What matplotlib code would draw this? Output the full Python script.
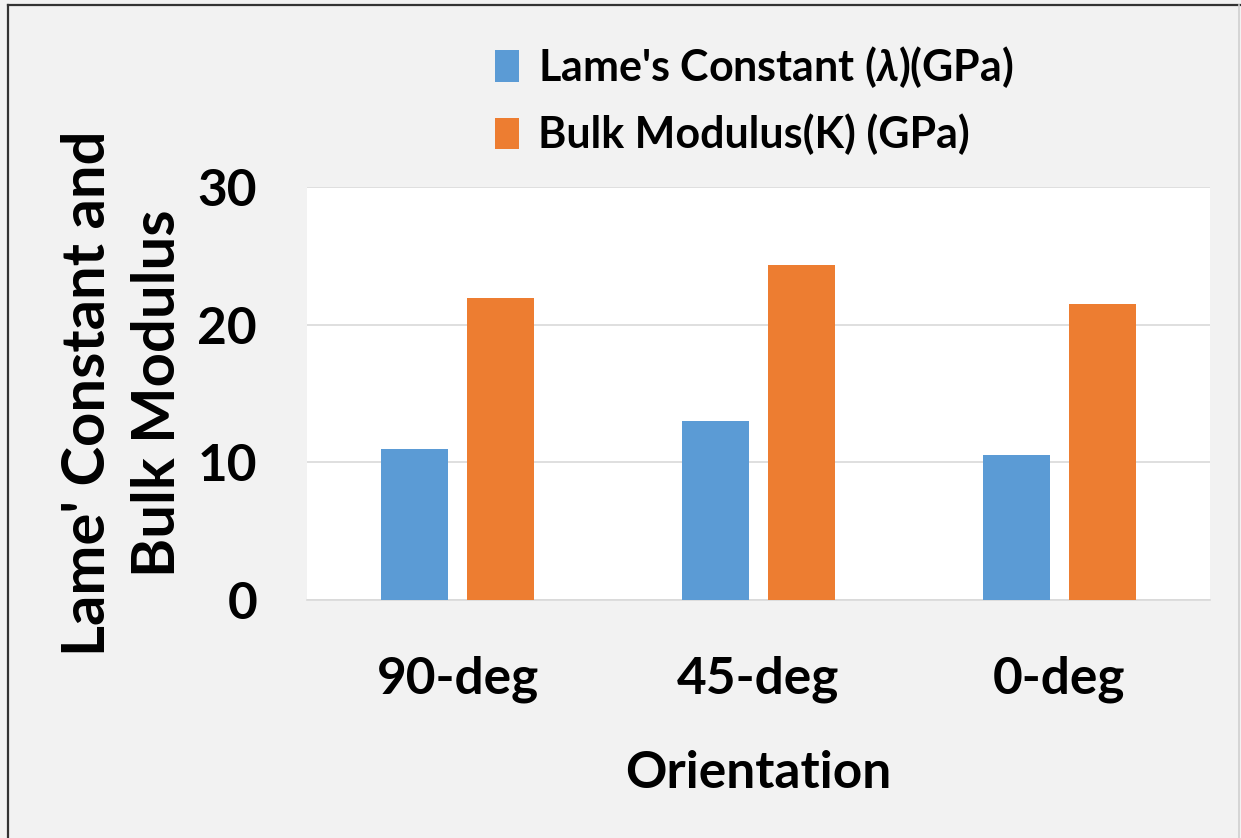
import matplotlib.pyplot as plt
import numpy as np
from matplotlib.lines import Line2D

# orientation categories and moduli (GPa)
orientations = ["90-deg", "45-deg", "0-deg"]
lame_lambda = [11.0, 13.0, 10.5]
bulk_modulus = [21.9, 24.3, 21.5]

plt.rcParams['font.family'] = ['Lato', 'DejaVu Sans']
plt.rcParams['font.weight'] = 'bold'
plt.rcParams['mathtext.fontset'] = 'custom'
plt.rcParams['mathtext.it'] = 'Lato:italic'

fig = plt.figure(figsize=(12.41, 8.38), dpi=100, facecolor='#f2f2f2')
ax = fig.add_axes([0.2474, 0.284, 0.7276, 0.493])
ax.set_facecolor('white')

x = np.arange(len(orientations))
w = 0.222
ax.bar(x - 0.142, lame_lambda, w, color='#5b9bd5', zorder=3,
       label="Lame's Constant ($\\lambda$)(GPa)")
ax.bar(x + 0.142, bulk_modulus, w, color='#ed7d31', zorder=3,
       label="Bulk Modulus(K) (GPa)")

ax.set_xlim(-0.5, 2.5)
ax.set_ylim(0, 30)
ax.set_yticks([0, 10, 20, 30])
ax.grid(axis='y', color='#d9d9d9', linewidth=1.2, zorder=0)
for s in ['top', 'right', 'left']:
    ax.spines[s].set_visible(False)
ax.spines['bottom'].set_color('#d9d9d9')
ax.spines['bottom'].set_linewidth(1.2)
ax.tick_params(length=0, labelsize=37)
ax.tick_params(axis='y', pad=36)
ax.tick_params(axis='x', pad=40)
ax.set_xticks(x)
ax.set_xticklabels(orientations, fontweight='bold')
for lbl in ax.get_yticklabels():
    lbl.set_fontweight('bold')

ax.set_xlabel("Orientation", fontsize=37, fontweight='bold', labelpad=34)
ax.set_ylabel("Lame' Constant and\nBulk Modulus", fontsize=43,
              fontweight='bold', labelpad=9, linespacing=1.35)

ax.legend(loc='center', bbox_to_anchor=(0.608, 0.881),
          bbox_transform=fig.transFigure, frameon=False,
          handlelength=0.55, handleheight=0.75, handletextpad=0.45,
          labelspacing=0.55, prop={'weight': 'bold', 'size': 31})

# outer frame: dark left/top edges, light right edge
fig.add_artist(Line2D([0.0065, 0.0065], [0, 0.994], transform=fig.transFigure,
                      color='#333333', linewidth=1.6))
fig.add_artist(Line2D([0.0065, 1.0], [0.994, 0.994], transform=fig.transFigure,
                      color='#333333', linewidth=1.6))
fig.add_artist(Line2D([0.9985, 0.9985], [0, 0.994], transform=fig.transFigure,
                      color='#d0d0d0', linewidth=1.2))

fig.savefig("out.png", dpi=100, facecolor=fig.get_facecolor())
